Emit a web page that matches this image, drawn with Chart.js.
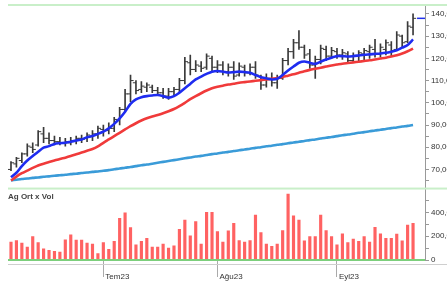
<!DOCTYPE html>
<html>
<head>
<meta charset="utf-8">
<script src="https://cdn.jsdelivr.net/npm/chart.js@4.4.0/dist/chart.umd.min.js"></script>
<style>
  html, body { margin: 0; padding: 0; background: #fff; }
  #marco { position: relative; width: 447px; height: 288px; }
</style>
</head>
<body>
<div id="marco"><canvas id="grafico"></canvas></div>
<script>
// --- DATOS ---
const meses = ['Tem23', 'Ağu23', 'Eyl23'];
const inicioMes = [17, 38, 60];
const ticksPrecio = [65, 70, 75, 80, 85, 90, 95, 100, 105, 110, 115, 120, 125, 130, 135, 140];
const ticksVolumen = [0, 100, 200, 300, 400, 500];

const apertura = [70, 72.5, 74, 77, 80, 81, 86, 84, 83, 82.5, 82, 82, 83, 84, 84, 85, 86, 88, 87.5, 88.5,
  92, 97, 104, 109, 106, 107, 107, 105.5, 104.5, 103, 105, 106, 110, 118, 115, 116.5, 116, 120, 116, 117,
  114, 116, 112.5, 116, 113.5, 116, 112, 108, 111, 109, 111, 119, 123, 127, 125, 122, 117, 119.5, 124, 121,
  123, 121.5, 122, 119, 121, 122, 123, 124, 122, 124, 126, 124, 130, 127.5, 134];
const maximo = [73.5, 75.5, 77.5, 81.5, 82, 87.5, 89, 86.5, 85, 84.5, 84, 84.5, 85, 85.5, 86.5, 87.5, 89.5, 90, 91, 93.5,
  98, 106, 112.5, 110, 109.5, 109, 108, 107, 106.5, 106.5, 107, 111, 120.5, 121.5, 119, 118.5, 122, 121, 119, 118.5,
  117.5, 118.5, 118, 117, 117.5, 118.5, 112.5, 113, 113.5, 112.5, 120, 124.5, 128.5, 132.5, 126, 124, 121, 126, 125.5, 125,
  124.5, 124, 123, 122.5, 123.5, 124.5, 126, 128.5, 126.5, 128.3, 127.5, 132, 130.5, 136.5, 140];
const minimo = [69.5, 71, 73, 76, 77.5, 80.5, 82, 81.5, 81, 81, 80.5, 81, 81.5, 82, 82.5, 83, 84, 85, 86, 87,
  90, 96, 100.5, 104, 104.5, 105, 104.5, 103.5, 102, 101.5, 103, 105, 108.5, 112.5, 114, 114, 115, 114, 113.5, 112.5,
  112, 110.5, 112, 112, 112.5, 111, 106, 107, 107.5, 106.5, 110.5, 117, 120, 124, 120, 115.5, 111, 117.5, 119, 120,
  120, 119.5, 117.8, 118, 118.5, 118.5, 120, 120.5, 120.5, 121.5, 121, 123.5, 125, 127, 130.5];
const cierre = [73, 75, 77, 80.5, 79, 87, 84, 83, 82.5, 82, 82.5, 83, 84, 83.5, 85.5, 86, 88.5, 87.5, 88.5, 92.5,
  97, 104, 110, 105.5, 107.5, 108, 105.5, 104.5, 103, 105, 106, 110, 118.5, 115, 117, 115.5, 121, 116, 117, 114,
  116, 112, 116.5, 113.5, 116, 112.5, 108, 111, 109, 111, 119, 123, 127, 125, 121.5, 117, 119.5, 124.5, 121, 123.5,
  121.5, 122.5, 119, 121, 122.5, 123.5, 125, 122, 125, 127, 123.5, 130.5, 127, 134.5, 138];

const mediaCorta = [66.5, 68.5, 71.5, 74, 76, 78, 79.8, 80.5, 81.5, 81.8, 82, 82.5, 83, 83.5, 84.5, 85, 86, 87, 88.5, 90.5,
  93, 96, 99.5, 101.5, 102.5, 103, 103.3, 103.5, 103, 102.3, 103, 104.5, 106.5, 108.5, 110.5, 111.8, 113, 114, 114.3, 114,
  113.6, 113.8, 114, 113.8, 113.5, 112.5, 111.5, 111, 110.5, 110.8, 112.5, 114.5, 116.3, 118, 118.6, 118, 117.5, 118.5, 119.5, 120.3,
  121, 121, 120.8, 121, 121.3, 121.6, 121.8, 122, 122.2, 122.5, 123, 123.6, 124.8, 126, 128.5];
const mediaMedia = [65, 66.8, 68.3, 69.5, 70.7, 71.8, 72.6, 73.3, 74, 74.7, 75.3, 76, 76.8, 77.6, 78.4, 79.2, 80.4, 82, 83.5, 85,
  86.5, 88, 89.5, 90.8, 92, 93, 93.8, 94.5, 95.3, 96.2, 97.2, 98.5, 100, 101.6, 103, 104.3, 105.5, 106.5, 107.2, 107.7,
  108.2, 108.6, 109, 109.3, 109.6, 109.9, 110.2, 110.5, 110.8, 111.1, 111.6, 112.2, 112.8, 113.5, 114.2, 114.8, 115.3, 115.8, 116.3, 116.8,
  117.2, 117.6, 117.9, 118.2, 118.5, 118.8, 119.1, 119.5, 119.9, 120.3, 120.8, 121.4, 122.2, 123.2, 124.4];
const mediaLarga = [65.1, 65.4, 65.7, 65.9, 66.2, 66.4, 66.7, 66.9, 67.2, 67.4, 67.6, 67.9, 68.1, 68.4, 68.6, 68.9, 69.1, 69.4, 69.7, 70.1,
  70.4, 70.8, 71.1, 71.5, 71.9, 72.2, 72.6, 73, 73.4, 73.8, 74.2, 74.6, 75, 75.4, 75.8, 76.1, 76.5, 76.9, 77.2, 77.6,
  77.9, 78.3, 78.6, 79, 79.3, 79.7, 80, 80.4, 80.7, 81.1, 81.4, 81.8, 82.1, 82.5, 82.8, 83.2, 83.5, 83.9, 84.3, 84.6,
  85, 85.4, 85.7, 86.1, 86.5, 86.8, 87.2, 87.5, 87.9, 88.2, 88.6, 88.9, 89.3, 89.6, 90];

const volumen = [150, 164, 142, 108, 197, 147, 94, 81, 72, 67, 169, 211, 167, 167, 142, 133, 53, 147, 90, 156,
  350, 397, 272, 128, 156, 183, 108, 108, 133, 100, 119, 258, 336, 203, 322, 133, 400, 400, 239, 150,
  244, 308, 164, 150, 164, 378, 231, 133, 114, 133, 247, 553, 372, 336, 161, 197, 197, 378, 247, 197,
  128, 219, 147, 175, 156, 197, 150, 275, 219, 183, 183, 217, 161, 294, 308];

// --- ESTILO ---
const FUENTE = '"Liberation Sans", Arial, sans-serif';
const DESPLAZ_TICK = 0.28; // media barra hacia cada lado para apertura/cierre

const puntos = serie => serie.map((v, i) => ({ x: i, y: v }));
const aTicks = valores => valores.map(v => ({ value: v }));

// líneas de los paneles, marcador del último cierre y título del volumen
const trazosPanel = {
  id: 'trazosPanel',
  beforeDatasetsDraw(chart) {
    const { ctx, chartArea } = chart;
    const ejeP = chart.scales.y;
    ctx.save();
    ctx.fillStyle = '#c9efc9';
    ctx.fillRect(chartArea.left, ejeP.top - 1, chart.width - chartArea.left, 2);
    ctx.fillRect(chartArea.left, ejeP.bottom - 1, chart.width - chartArea.left, 2);
    ctx.fillStyle = '#cfcfcf';
    ctx.fillRect(chartArea.left, chartArea.bottom + 4, chart.width - chartArea.left, 1);
    ctx.restore();
  },
  afterDatasetsDraw(chart) {
    const { ctx, chartArea } = chart;
    const ejeV = chart.scales.yv, ejeX = chart.scales.x, ejeP = chart.scales.y;
    ctx.save();
    ctx.fillStyle = '#7ccf7c';
    ctx.fillRect(chartArea.left, ejeV.getPixelForValue(0) - 1, chartArea.right - chartArea.left, 2);

    const ultimo = cierre.length - 1;
    const yUlt = ejeP.getPixelForValue(cierre[ultimo]);
    ctx.strokeStyle = '#2030ee';
    ctx.lineWidth = 1.5;
    ctx.beginPath();
    ctx.moveTo(ejeX.getPixelForValue(ultimo) + 4, yUlt);
    ctx.lineTo(chartArea.right, yUlt);
    ctx.stroke();

    ctx.fillStyle = '#444';
    ctx.font = 'bold 8px ' + FUENTE;
    ctx.textBaseline = 'middle';
    ctx.fillText('Ag Ort x Vol', chartArea.left, ejeV.top + 8);
    ctx.restore();
  }
};

new Chart(document.getElementById('grafico'), {
  type: 'bar',
  data: {
    datasets: [
      {
        type: 'line', data: puntos(mediaCorta), yAxisID: 'y', order: 1,
        borderColor: '#1e2cf0', borderWidth: 2.6, pointRadius: 0, tension: 0.25
      },
      {
        type: 'line', data: puntos(mediaMedia), yAxisID: 'y', order: 1,
        borderColor: '#f03a3a', borderWidth: 2.6, pointRadius: 0, tension: 0.25
      },
      {
        type: 'line', data: puntos(mediaLarga), yAxisID: 'y', order: 1,
        borderColor: '#3a9bd8', borderWidth: 2.6, pointRadius: 0, tension: 0.25
      },
      {
        type: 'bar', data: maximo.map((h, i) => ({ x: i, y: [minimo[i], h] })), yAxisID: 'y', order: 2,
        backgroundColor: '#3a3a3a', barThickness: 1, grouped: false
      },
      {
        type: 'scatter', data: apertura.map((v, i) => ({ x: i - DESPLAZ_TICK, y: v })), yAxisID: 'y', order: 2,
        pointStyle: 'line', pointRadius: 1.6, borderColor: '#3a3a3a', borderWidth: 1
      },
      {
        type: 'scatter', data: cierre.map((v, i) => ({ x: i + DESPLAZ_TICK, y: v })), yAxisID: 'y', order: 2,
        pointStyle: 'line', pointRadius: 1.6, borderColor: '#3a3a3a', borderWidth: 1
      },
      {
        type: 'bar', data: puntos(volumen), yAxisID: 'yv', order: 3,
        backgroundColor: '#ff6262', barThickness: 2.5, grouped: false
      }
    ]
  },
  options: {
    responsive: true,
    maintainAspectRatio: false,
    animation: false,
    layout: { padding: { top: 3, left: 8, right: 0, bottom: 0 } },
    plugins: { legend: { display: false }, tooltip: { enabled: false } },
    scales: {
      x: {
        type: 'linear', position: 'bottom', min: -0.55, max: 76.2, offset: false,
        afterBuildTicks: s => { s.ticks = aTicks(inicioMes); },
        afterFit: s => { s.height = 28; s.paddingLeft = 0; s.paddingRight = 0; },
        grid: { drawOnChartArea: false, offset: false, tickLength: 17, color: '#aaa' },
        border: { display: false },
        ticks: {
          align: 'start', padding: -5, labelOffset: 2, autoSkip: false, maxRotation: 0,
          callback: (v, i) => meses[i],
          font: { size: 8, family: FUENTE }, color: '#333'
        }
      },
      y: {
        position: 'right', stack: 'panel', stackWeight: 185, min: 61.4, max: 144,
        afterBuildTicks: s => { s.ticks = aTicks(ticksPrecio); },
        afterFit: s => { s.width = 22; s.paddingTop = 0; s.paddingBottom = 0; },
        grid: { drawOnChartArea: false, tickLength: 4, color: '#999' },
        border: { color: '#999' },
        ticks: {
          padding: 2, autoSkip: false,
          callback: v => (v % 10 === 0 ? v + ',00' : ''),
          font: { size: 8, family: FUENTE }, color: '#333'
        }
      },
      yv: {
        position: 'right', stack: 'panel', stackWeight: 72, min: 0, max: 600,
        afterBuildTicks: s => { s.ticks = aTicks(ticksVolumen); },
        afterFit: s => { s.width = 22; s.paddingTop = 0; s.paddingBottom = 0; },
        grid: { drawOnChartArea: false, tickLength: 4, color: '#999' },
        border: { color: '#999' },
        ticks: {
          padding: 2, autoSkip: false,
          callback: v => (v % 200 === 0 ? (v ? v + ',00' : '0') : ''),
          font: { size: 8, family: FUENTE }, color: '#333'
        }
      }
    }
  },
  plugins: [trazosPanel]
});
</script>
</body>
</html>
